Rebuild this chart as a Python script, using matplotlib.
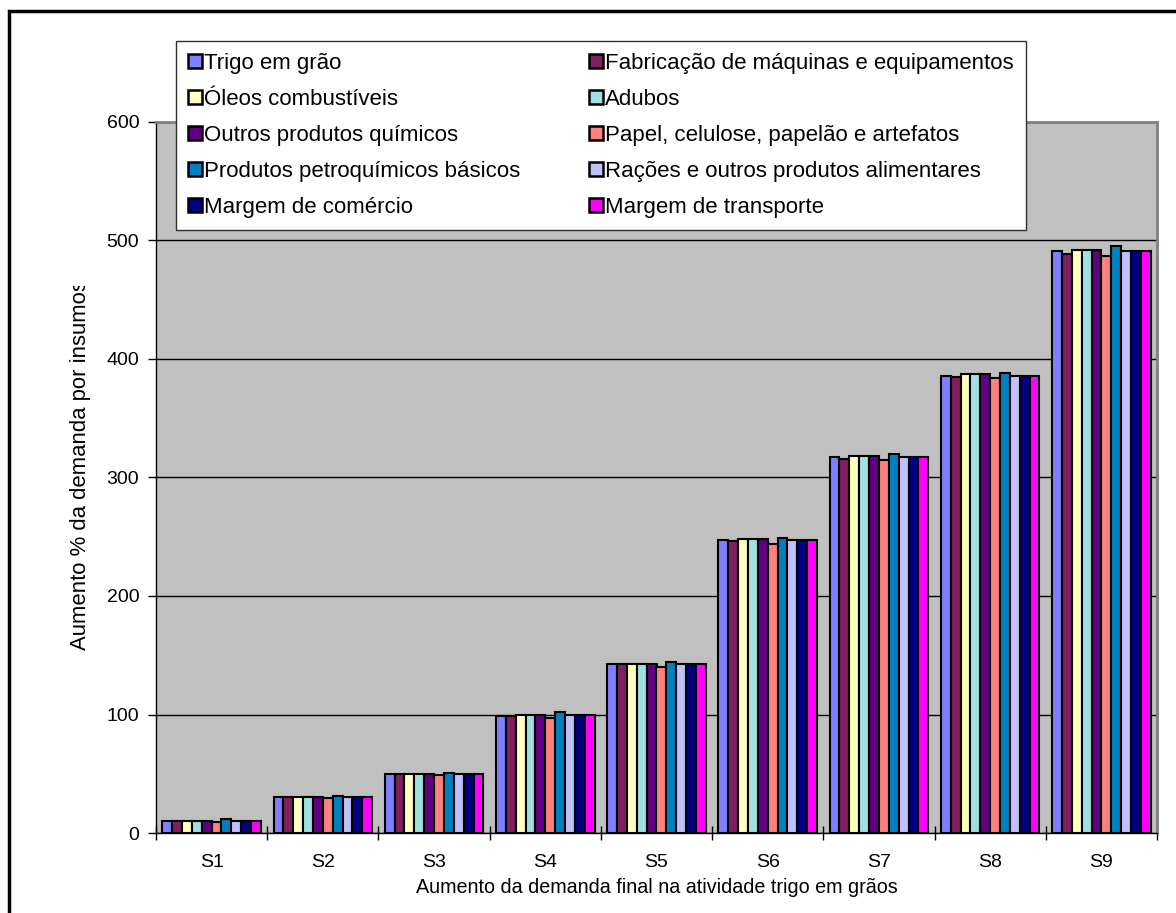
import matplotlib
matplotlib.use("Agg")
import matplotlib.pyplot as plt
from matplotlib.patches import Rectangle, Patch
import numpy as np

plt.rcParams['font.family'] = ['Liberation Sans', 'DejaVu Sans']

categories = ["S1", "S2", "S3", "S4", "S5", "S6", "S7", "S8", "S9"]
series_names = [
    "Trigo em grão",
    "Fabricação de máquinas e equipamentos",
    "Óleos combustíveis",
    "Adubos",
    "Outros produtos químicos",
    "Papel, celulose, papelão e artefatos",
    "Produtos petroquímicos básicos",
    "Rações e outros produtos alimentares",
    "Margem de comércio",
    "Margem de transporte",
]
trigo       = [10, 30, 50, 99, 143, 247, 317, 386, 491]
fabricacao  = [10, 30, 49.5, 99, 143, 246, 316, 385, 489]
oleos       = [10, 30, 50, 100, 143, 248, 318, 387, 492]
adubos      = [10, 30, 50, 100, 143, 248, 318, 387, 492]
outros_quim = [10, 30, 50, 100, 143, 248, 318, 387, 492]
papel       = [9.5, 29.5, 49, 97, 140, 244, 315, 384, 487]
petroquim   = [12, 31, 51, 102, 144, 249, 320, 388, 495]
racoes      = [10, 30, 50, 100, 143, 247, 317, 386, 491]
m_comercio  = [10, 30, 50, 100, 143, 247, 317, 386, 491]
m_transp    = [10, 30, 50, 100, 143, 247, 317, 386, 491]
series_values = [trigo, fabricacao, oleos, adubos, outros_quim, papel,
                 petroquim, racoes, m_comercio, m_transp]
colors = ["#8080FF", "#802060", "#FFFFC0", "#A0E0E0", "#600080",
          "#FF8080", "#0080C0", "#C0C0FF", "#000080", "#FF00FF"]
yticks = [0, 100, 200, 300, 400, 500, 600]
xlabel = "Aumento da demanda final na atividade trigo em grãos"
ylabel = "Aumento % da demanda por insumos"

W, H = 1176, 913
fig = plt.figure(figsize=(W / 100, H / 100), dpi=100)
ax = fig.add_axes([156 / W, 1 - 833 / H, (1157 - 156) / W, (833 - 122) / H])
ax.set_facecolor("#C0C0C0")

n = len(series_values)
group_w = 0.887
bw = group_w / n
x = np.arange(len(categories))
for i, (vals, c) in enumerate(zip(series_values, colors)):
    ax.bar(x - group_w / 2 + bw * (i + 0.5), vals, width=bw, color=c,
           edgecolor="black", linewidth=1.5, zorder=3)

ax.set_xlim(-0.5, len(categories) - 0.5)
ax.set_ylim(0, 600)
ax.set_yticks(yticks)
ax.set_yticklabels([str(v) for v in yticks], fontsize=14)
ax.set_xticks(x)
ax.set_xticklabels(categories, fontsize=14)
ax.set_xticks(np.arange(len(categories) + 1) - 0.5, minor=True)
ax.tick_params(axis="x", which="major", length=0, pad=15)
ax.tick_params(axis="x", which="minor", length=10, direction="inout", width=1)
ax.tick_params(axis="y", which="major", length=6, direction="out", width=1, pad=6)

ax.yaxis.grid(True, color="black", linewidth=1.0, zorder=1)
ax.set_axisbelow(True)
for s in ["top", "right"]:
    ax.spines[s].set_color("#808080")
    ax.spines[s].set_linewidth(2)
for s in ["left", "bottom"]:
    ax.spines[s].set_color("black")
    ax.spines[s].set_linewidth(1)

ax.set_xlabel(xlabel, fontsize=14.2, labelpad=5)

# y label (clipped at top as in the original)
yl = fig.text(81 / W, 1 - 650 / H, ylabel, rotation=90, fontsize=15.9,
              ha="center", va="bottom")
clip = Rectangle((0, 0), 1, 1 - 286 / H, transform=fig.transFigure,
                 facecolor="none", edgecolor="none")
fig.add_artist(clip)
yl.set_clip_path(clip)

# legend: row-wise ordering in two columns
handles = [Patch(facecolor=c, edgecolor="black", linewidth=1.8) for c in colors]
order = list(range(0, n, 2)) + list(range(1, n, 2))
leg = fig.legend([handles[i] for i in order], [series_names[i] for i in order],
                 ncol=2, loc="upper left",
                 bbox_to_anchor=(176 / W, 1 - 41 / H),
                 fontsize=16, frameon=True, fancybox=False, shadow=False,
                 framealpha=1, facecolor="white",
                 handlelength=0.6, handleheight=0.6, handletextpad=0.12,
                 labelspacing=0.67, columnspacing=3.1, borderpad=0.55,
                 borderaxespad=0)
leg.get_frame().set_edgecolor("#303030")
leg.get_frame().set_linewidth(1)

# outer chart border
fig.add_artist(Rectangle((9 / W, -0.1), 1.2, 1 - 11 / H + 0.1,
                         transform=fig.transFigure, facecolor="none",
                         edgecolor="black", linewidth=2.5))

fig.savefig("out.png", dpi=100)
